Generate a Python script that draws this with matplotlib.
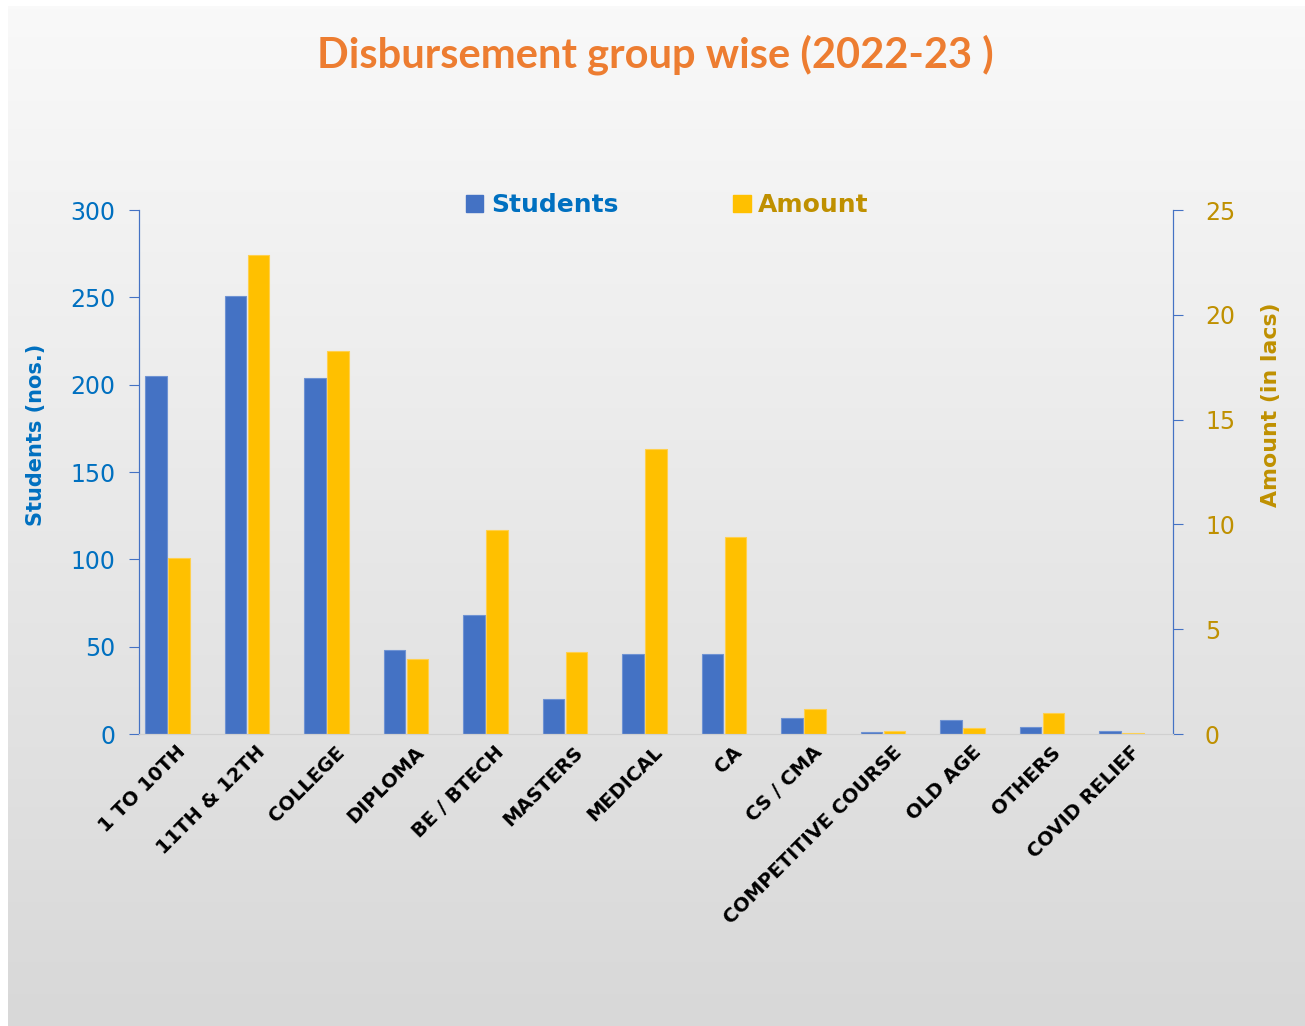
import numpy as np
import matplotlib
matplotlib.use('Agg')
import matplotlib.pyplot as plt
from matplotlib.patches import Patch

categories = ['1 TO 10TH', '11TH & 12TH', 'COLLEGE', 'DIPLOMA', 'BE / BTECH', 'MASTERS',
              'MEDICAL', 'CA', 'CS / CMA', 'COMPETITIVE COURSE', 'OLD AGE', 'OTHERS',
              'COVID RELIEF']
students = [205, 251, 204, 48, 68, 20, 46, 46, 9, 1, 8, 4, 2]
amount = [8.4, 22.85, 18.27, 3.58, 9.73, 3.91, 13.6, 9.4, 1.18, 0.13, 0.29, 1.0, 0.05]

plt.rcParams['font.family'] = ['DejaVu Sans']

blue = '#4472C4'
gold = '#FFC000'
blue_txt = '#0070C0'
gold_txt = '#BF9000'

fig = plt.figure(figsize=(13.05, 10.26), dpi=100)
fig.patch.set_facecolor('white')

# gradient background panel
bg = fig.add_axes([8 / 1305, 0, 1 - 8 / 1305, 1 - 6 / 1026])
grad = np.linspace(0, 1, 256).reshape(-1, 1)
bg.imshow(grad, aspect='auto', cmap=matplotlib.colors.LinearSegmentedColormap.from_list(
    'g', ['#f9f9f9', '#d8d8d8']), extent=[0, 1, 0, 1], origin='upper')
bg.axis('off')

ax = fig.add_axes([139 / 1305, 1 - 734 / 1026, (1173 - 139) / 1305, (734 - 210) / 1026])
ax.patch.set_alpha(0)
ax2 = ax.twinx()

x = np.arange(len(categories))
w = 0.275
ax.bar(x - 0.145, students, w, color=blue, edgecolor='#6f93d3', linewidth=0.8)
ax2.bar(x + 0.145, amount, w, color=gold, edgecolor='#ffd04d', linewidth=0.8)

ax.set_xlim(-0.358, 12.648)
ax.set_ylim(0, 300)
ax2.set_ylim(0, 25)
ax.set_yticks(range(0, 301, 50))
ax2.set_yticks(range(0, 26, 5))

ax.set_xticks(x + 0.11)
ax.set_xticklabels(categories, rotation=45, ha='right', va='top', rotation_mode='anchor',
                   fontsize=14, fontweight='bold', color='black')
ax.tick_params(axis='x', length=0, pad=6)
ax.tick_params(axis='y', colors=blue, labelcolor=blue_txt, labelsize=17, length=7, pad=10)
ax2.tick_params(axis='y', colors=blue, labelcolor=gold_txt, labelsize=17, length=7, pad=16)

for a in (ax, ax2):
    a.spines['top'].set_visible(False)
    a.spines['bottom'].set_color('#d0d0d0')
    a.spines['left'].set_color(blue)
    a.spines['right'].set_color(blue)

ax.set_ylabel('Students (nos.)', color=blue_txt, fontsize=15, fontweight='bold')
ax.yaxis.set_label_coords(-(139 - 46) / 1034, 1 - (435 - 210) / 524)
ax2.set_ylabel('Amount (in lacs)', color=gold_txt, fontsize=15.8, fontweight='bold')
ax2.yaxis.set_label_coords(1 + (1261 - 1173) / 1034, 1 - (405 - 210) / 524)

fig.text(0.502, 1 - 55 / 1026, 'Disbursement group wise (2022-23 )', ha='center', va='center',
         fontsize=30, fontweight='bold', color='#ED7D31', family='Lato')

leg = ax.legend([Patch(color=blue), Patch(color=gold)], ['Students', 'Amount'],
                loc='center', bbox_to_anchor=(0.511, 1.0 + 5 / 524),
                ncol=2, frameon=False, handlelength=0.7, handleheight=0.7,
                handletextpad=0.3, columnspacing=4.6, prop={'weight': 'bold', 'size': 18})
for t, c in zip(leg.get_texts(), [blue_txt, gold_txt]):
    t.set_color(c)

fig.savefig('out.png', dpi=100)
